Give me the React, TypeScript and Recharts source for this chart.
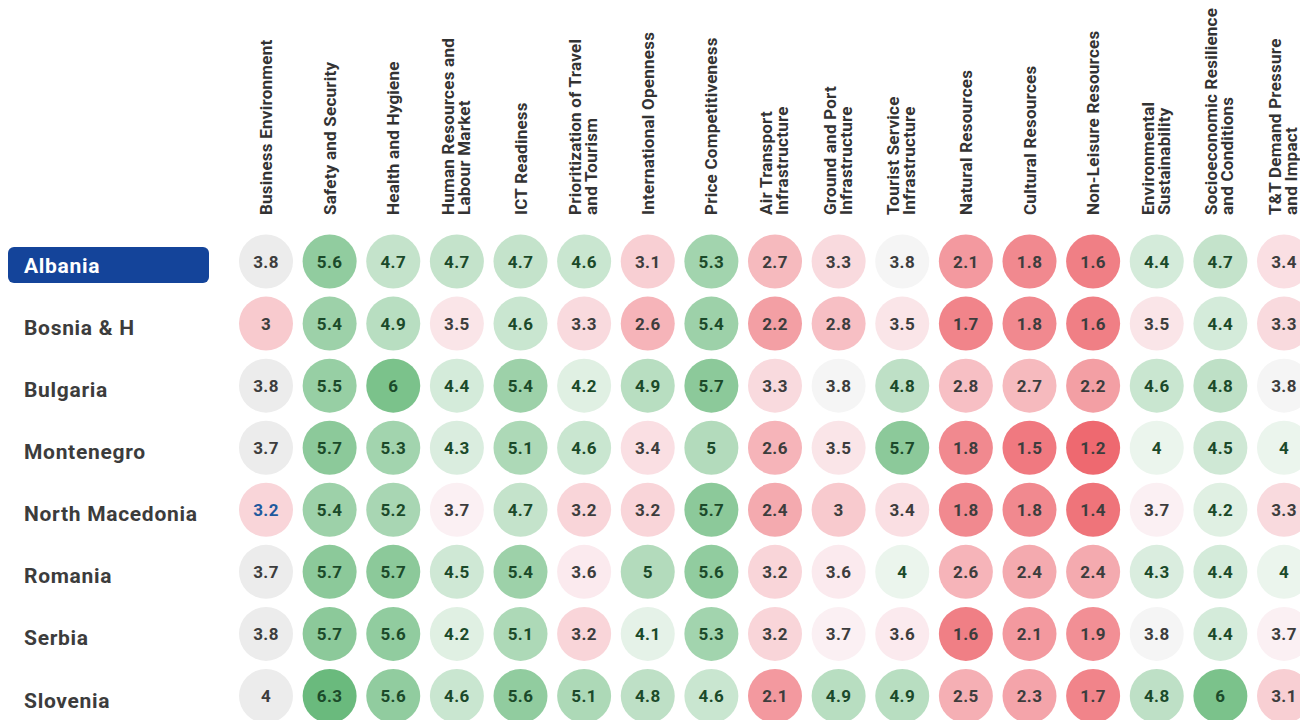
import React from 'react';
import { ScatterChart, Scatter, XAxis, YAxis } from 'recharts';

const categories: string[] = [
  'Business Environment',
  'Safety and Security',
  'Health and Hygiene',
  'Human Resources and|Labour Market',
  'ICT Readiness',
  'Prioritization of Travel|and Tourism',
  'International Openness',
  'Price Competitiveness',
  'Air Transport|Infrastructure',
  'Ground and Port|Infrastructure',
  'Tourist Service|Infrastructure',
  'Natural Resources',
  'Cultural Resources',
  'Non-Leisure Resources',
  'Environmental|Sustainability',
  'Socioeconomic Resilience|and Conditions',
  'T&T Demand Pressure|and Impact',
];

const countries: string[] = [
  'Albania',
  'Bosnia & H',
  'Bulgaria',
  'Montenegro',
  'North Macedonia',
  'Romania',
  'Serbia',
  'Slovenia',
];

const albania = [3.8, 5.6, 4.7, 4.7, 4.7, 4.6, 3.1, 5.3, 2.7, 3.3, 3.8, 2.1, 1.8, 1.6, 4.4, 4.7, 3.4];
const bosnia = [3, 5.4, 4.9, 3.5, 4.6, 3.3, 2.6, 5.4, 2.2, 2.8, 3.5, 1.7, 1.8, 1.6, 3.5, 4.4, 3.3];
const bulgaria = [3.8, 5.5, 6, 4.4, 5.4, 4.2, 4.9, 5.7, 3.3, 3.8, 4.8, 2.8, 2.7, 2.2, 4.6, 4.8, 3.8];
const montenegro = [3.7, 5.7, 5.3, 4.3, 5.1, 4.6, 3.4, 5, 2.6, 3.5, 5.7, 1.8, 1.5, 1.2, 4, 4.5, 4];
const northMacedonia = [3.2, 5.4, 5.2, 3.7, 4.7, 3.2, 3.2, 5.7, 2.4, 3, 3.4, 1.8, 1.8, 1.4, 3.7, 4.2, 3.3];
const romania = [3.7, 5.7, 5.7, 4.5, 5.4, 3.6, 5, 5.6, 3.2, 3.6, 4, 2.6, 2.4, 2.4, 4.3, 4.4, 4];
const serbia = [3.8, 5.7, 5.6, 4.2, 5.1, 3.2, 4.1, 5.3, 3.2, 3.7, 3.6, 1.6, 2.1, 1.9, 3.8, 4.4, 3.7];
const slovenia = [4, 6.3, 5.6, 4.6, 5.6, 5.1, 4.8, 4.6, 2.1, 4.9, 4.9, 2.5, 2.3, 1.7, 4.8, 6, 3.1];

const rows: number[][] = [albania, bosnia, bulgaria, montenegro, northMacedonia, romania, serbia, slovenia];

const points = rows.flatMap((vals, r) =>
  vals.map((v, c) => ({ x: c, y: r, v }))
);

const FONT = 'Roboto, "Noto Sans", sans-serif';

const lerp = (a: number[], b: number[], t: number) =>
  `rgb(${a.map((av, i) => Math.round(av + (b[i] - av) * t)).join(',')})`;

const RED = [238, 105, 112];
const RED_MID = [252, 245, 248];
const GREEN_MID = [246, 250, 247];
const GREEN = [95, 181, 115];

function fillFor(v: number, col: number): string {
  if (col === 0 && v >= 3.7) return '#ececec';
  if (Math.abs(v - 3.8) < 0.01) return '#f5f5f5';
  if (v > 3.8) return lerp(GREEN_MID, GREEN, Math.min(1, (v - 3.8) / 2.7));
  return lerp(RED_MID, RED, Math.min(1, (3.8 - v) / 2.6));
}

function textFor(v: number, col: number, row: number): string {
  if (col === 0 && row === 4) return '#1f5a9e';
  if (col === 0) return '#3d3d3d';
  return v >= 3.9 ? '#1b4a2a' : '#3d3d3d';
}

const Bubble = (props: any) => {
  const { cx, cy, payload } = props;
  if (cx == null || cy == null) return null;
  const { v, x, y } = payload;
  return (
    <g>
      <circle cx={cx} cy={cy} r={27} fill={fillFor(v, x)} />
      <text
        x={cx}
        y={cy + 6}
        textAnchor="middle"
        fontFamily={FONT}
        fontWeight={700}
        fontSize={17}
        letterSpacing={0.4}
        fill={textFor(v, x, y)}
      >
        {String(v)}
      </text>
    </g>
  );
};

const HeaderTick = (props: any) => {
  const { x, payload } = props;
  const label = categories[payload.value] || '';
  const lines = label.split('|');
  const bottom = 215;
  const offsets = lines.length === 1 ? [6] : [-3, 13];
  return (
    <g>
      {lines.map((ln, i) => {
        const bx = x + offsets[i];
        return (
          <text
            key={i}
            x={bx}
            y={bottom}
            transform={`rotate(-90 ${bx} ${bottom})`}
            textAnchor="start"
            fontFamily={FONT}
            fontWeight={700}
            fontSize={17}
            letterSpacing={0.25}
            fill="#333333"
          >
            {ln}
          </text>
        );
      })}
    </g>
  );
};

const CountryTick = (props: any) => {
  const { y, payload } = props;
  const name = countries[payload.value] || '';
  const highlighted = payload.value === 0;
  return (
    <g>
      {highlighted && (
        <rect x={8} y={y - 14.5} width={201} height={36} rx={6} ry={6} fill="#14449a" />
      )}
      <text
        x={24}
        y={y + 11.5}
        textAnchor="start"
        fontFamily={FONT}
        fontWeight={700}
        fontSize={21}
        letterSpacing={0.7}
        fill={highlighted ? '#ffffff' : '#3c3c3c'}
      >
        {name}
      </text>
    </g>
  );
};

export default function App() {
  return (
    <div style={{ position: 'fixed', left: 0, top: 0, width: 1300, height: 720, background: '#ffffff', overflow: 'hidden' }}>
      <ScatterChart width={1300} height={720} margin={{ top: 10, right: 16, bottom: 24, left: 16 }}>
        <XAxis
          type="number"
          dataKey="x"
          orientation="top"
          domain={[0, 16]}
          ticks={categories.map((_, i) => i)}
          interval={0}
          height={251.5}
          axisLine={false}
          tickLine={false}
          tick={<HeaderTick />}
        />
        <YAxis
          type="number"
          dataKey="y"
          domain={[0, 7]}
          reversed
          ticks={countries.map((_, i) => i)}
          interval={0}
          width={250}
          axisLine={false}
          tickLine={false}
          tick={<CountryTick />}
        />
        <Scatter data={points} shape={Bubble} isAnimationActive={false} />
      </ScatterChart>
    </div>
  );
}
